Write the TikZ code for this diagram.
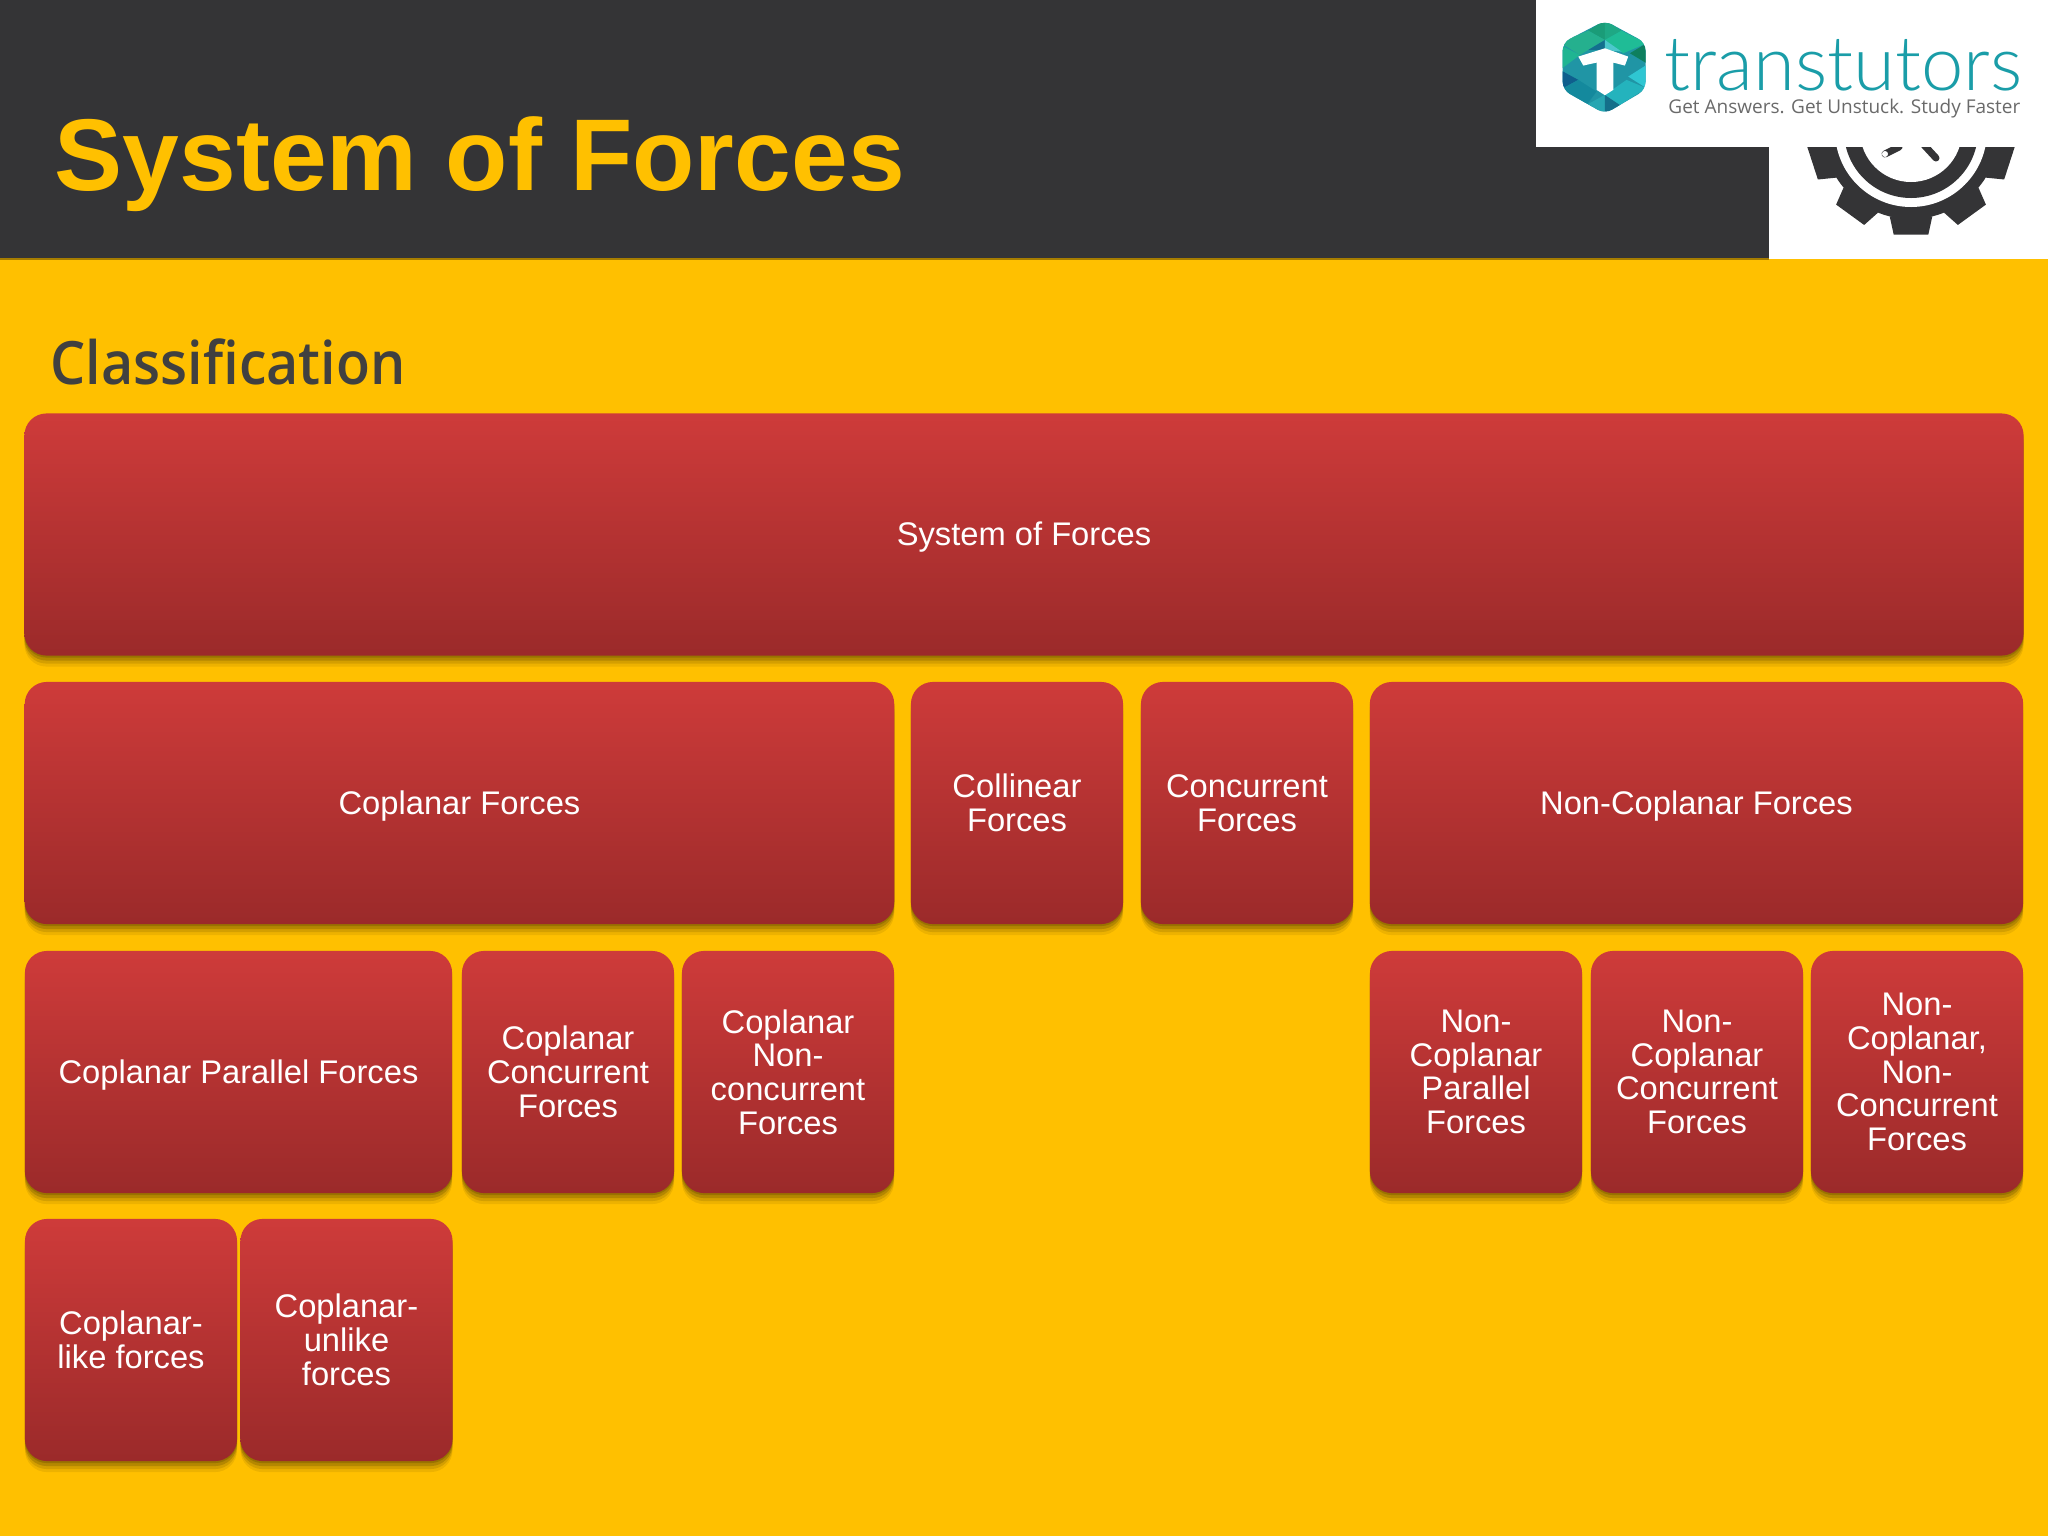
\documentclass[tikz,border=0pt]{standalone}
\usepackage{fontspec}
\setmainfont{Liberation Sans}
\newfontfamily\segoefont{Open Sans}
\newfontfamily\segoebold[FakeStretch=0.93]{Open Sans Semibold}
\newfontfamily\logofont{Lato Light}
\usetikzlibrary{shadows}

\definecolor{headdark}{HTML}{343436}
\definecolor{slideyellow}{HTML}{FFC000}
\definecolor{redtop}{HTML}{CE3B3A}
\definecolor{redbot}{HTML}{9B2A2A}
\definecolor{logoteal}{HTML}{1A9DA8}
\definecolor{taggrey}{HTML}{6A6A6A}

\tikzset{
  forcebox/.style={rounded corners=0.22cm, inner sep=0pt, align=center,
    minimum height=2.42cm, top color=redtop, bottom color=redbot, text=white,
    font=\fontsize{9.3}{9.6}\selectfont,
    general shadow={fill=black, opacity=.07, shadow yshift=-.11cm},
    general shadow={fill=black, opacity=.1, shadow yshift=-.08cm},
    general shadow={fill=black, opacity=.15, shadow yshift=-.05cm},
    general shadow={fill=black, opacity=.15, shadow yshift=-.02cm}},
  small/.style={minimum width=2.12cm},
  oneline/.style={text height=.84em, text depth=.21em}
}

\begin{document}
\begin{tikzpicture}[x=0.01cm,y=-0.01cm]
\useasboundingbox (0,0) rectangle (2048,1536);

\fill [slideyellow] (0,0) rectangle (2048,1536);
\fill [headdark] (0,0) rectangle (1769,258);
\fill [white] (1769,0) rectangle (2048,259);
\fill [black!35!slideyellow] (0,258) rectangle (1769,260);

% gear, cut off by the logo panel
\path (1911,131) coordinate(G);
\fill [headdark] (G) circle (88);
\foreach \a in {-90,-54,...,270}
  \fill [headdark] ([shift={(\a-14:88)}]G) -- ([shift={(\a-9.5:105)}]G) -- ([shift={(\a+9.5:105)}]G) -- ([shift={(\a+14:88)}]G) -- cycle;
\fill [white] (G) circle (76);
\fill [headdark] (G) circle (67);
\fill [white] (G) circle (51);
\draw [headdark, line width=0.07cm, line cap=round] (1899,147) -- (1885,154);
\fill [white] (1885,154) circle (3);
\draw [headdark, line width=0.07cm, line cap=round] (1924,145) -- (1936,158);

% logo panel
\fill [white] (1536,0) rectangle (2048,147);

\begin{scope}[shift={(1550,10)},x=0.00333cm,y=-0.00333cm]
\clip [rounded corners=0.08cm] (165,32) -- (287,98) -- (287,240) -- (165,312) -- (38,240) -- (38,98) -- cycle;
\fill [color={rgb,255:red,32;green,149;blue,165}] (0,0) rectangle (330,330);
\fill [color={rgb,255:red,26;green,156;blue,120}] (165,30) -- (115,62) -- (165,90) -- cycle;
\fill [color={rgb,255:red,30;green,168;blue,132}] (165,30) -- (215,62) -- (165,90) -- cycle;
\fill [color={rgb,255:red,37;green,176;blue,142}] (115,62) -- (30,98) -- (90,135) -- (165,90) -- cycle;
\fill [color={rgb,255:red,31;green,188;blue,150}] (215,62) -- (290,100) -- (220,130) -- (165,90) -- cycle;
\fill [color={rgb,255:red,14;green,127;blue,94}] (290,100) -- (290,160) -- (240,130) -- cycle;
\fill [color={rgb,255:red,19;green,111;blue,142}] (165,90) -- (115,120) -- (165,120) -- cycle;
\fill [color={rgb,255:red,76;green,200;blue,204}] (165,90) -- (215,125) -- (165,120) -- cycle;
\fill [color={rgb,255:red,31;green,181;blue,146}] (30,105) -- (90,135) -- (30,180) -- cycle;
\fill [color={rgb,255:red,15;green,95;blue,141}] (30,180) -- (85,210) -- (30,240) -- cycle;
\fill [color={rgb,255:red,20;green,137;blue,157}] (85,210) -- (30,240) -- (110,285) -- (140,245) -- cycle;
\fill [color={rgb,255:red,39;green,166;blue,178}] (165,320) -- (165,255) -- (110,285) -- cycle;
\fill [color={rgb,255:red,20;green,111;blue,138}] (165,255) -- (165,320) -- (210,285) -- cycle;
\fill [color={rgb,255:red,36;green,179;blue,189}] (165,255) -- (210,285) -- (290,235) -- (230,210) -- cycle;
\fill [color={rgb,255:red,47;green,198;blue,210}] (290,165) -- (290,235) -- (235,200) -- cycle;
\fill [white] (85,140) -- (165,115) -- (235,140) -- (225,167) -- (190,158) -- (190,240) -- (165,256) -- (140,240) -- (140,158) -- (100,167) -- cycle;
\end{scope}

\node (title) [anchor=base west, inner sep=0pt, text=slideyellow, font=\fontsize{29}{30}\selectfont\bfseries] at (54,190) {System of Forces};
\node (classif) [anchor=base west, inner sep=0pt, text=black!75, font=\fontsize{17}{20}\segoebold] at (50,384) {Classification};

\node (brand) [anchor=base west, inner sep=0pt, text=logoteal, font=\fontsize{21.6}{22}\logofont] at (1664,90) {transtutors};
\node (tag) [anchor=base east, inner sep=0pt, text=taggrey, font=\fontsize{5.4}{6}\segoefont] at (2021,113) {Get Answers. Get Unstuck. Study Faster};

\node (sys) [forcebox, oneline, minimum width=19.98cm] at (1024,534.5) {System of Forces};

\node (cop) [forcebox, oneline, minimum width=8.69cm] at (459.5,803) {Coplanar Forces};
\node (col) [forcebox, small] at (1017,803) {Collinear\\Forces};
\node (con) [forcebox, small] at (1247,803) {Concurrent\\Forces};
\node (non) [forcebox, oneline, minimum width=6.53cm] at (1696.5,803) {Non-Coplanar Forces};

\node (cpf) [forcebox, oneline, minimum width=4.27cm] at (238.5,1072) {Coplanar Parallel Forces};
\node (ccf) [forcebox, small] at (568,1072) {Coplanar\\Concurrent\\Forces};
\node (cnf) [forcebox, small] at (788,1072) {Coplanar\\Non-\\concurrent\\Forces};
\node (npf) [forcebox, small] at (1476,1072) {Non-\\Coplanar\\Parallel\\Forces};
\node (ncf) [forcebox, small] at (1697,1072) {Non-\\Coplanar\\Concurrent\\Forces};
\node (nnf) [forcebox, small] at (1917,1072) {Non-\\Coplanar,\\Non-\\Concurrent\\Forces};

\node (lik) [forcebox, small] at (131,1340) {Coplanar-\\like forces};
\node (unl) [forcebox, small] at (346.5,1340) {Coplanar-\\unlike\\forces};
\end{tikzpicture}
\end{document}
